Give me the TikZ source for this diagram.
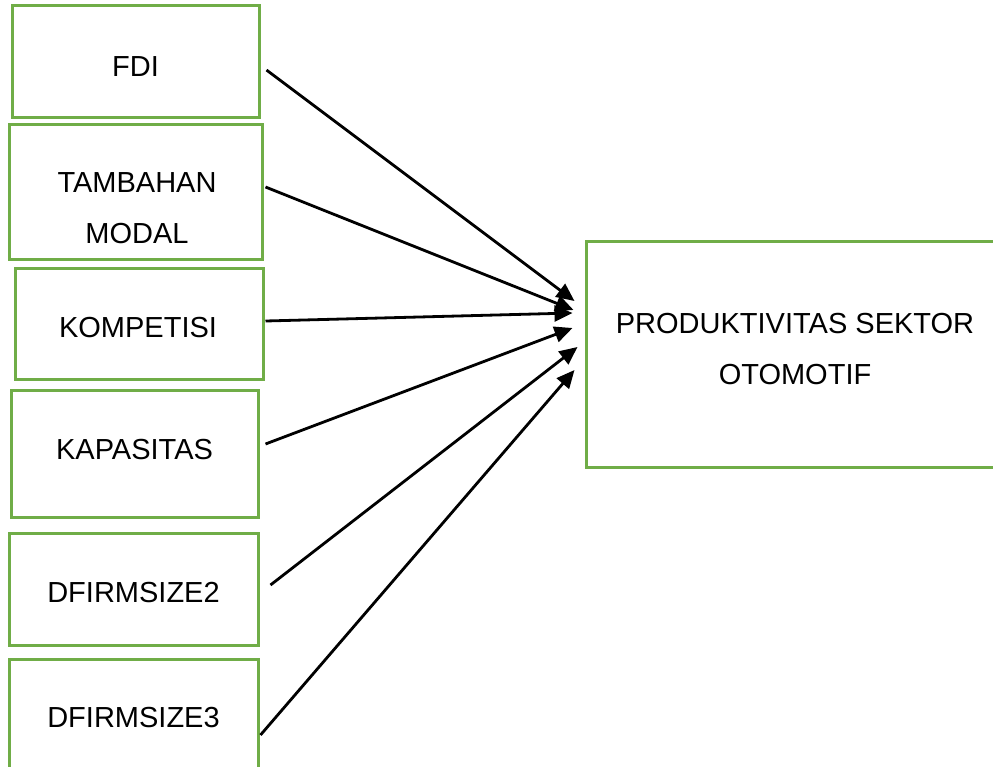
\documentclass[tikz,border=0pt]{standalone}
\usepackage{fontspec}
\setmainfont{Liberation Sans}
\usetikzlibrary{calc,arrows.meta}
\definecolor{boxgreen}{RGB}{112,173,71}
\begin{document}
\begin{tikzpicture}[x=1pt,y=-1pt,
  box/.style={draw=boxgreen,line width=3pt,rectangle,inner sep=0pt},
  txt/.style={font=\fontsize{29}{51}\selectfont,align=center,inner sep=0pt},
  conn/.style={line width=2.8pt,-{Triangle[length=18pt,width=16pt]}}]
\useasboundingbox (0,0) rectangle (993,766);
\clip (0,0) rectangle (993,766);
% boxes
\node[box,minimum width=247,minimum height=112] (fdi) at (135.5,61) {};
\node[box,minimum width=253,minimum height=135] (tam) at (135.5,191.5) {};
\node[box,minimum width=248,minimum height=111] (kom) at (139,323.5) {};
\node[box,minimum width=247,minimum height=127] (kap) at (134.5,453.5) {};
\node[box,minimum width=249,minimum height=112] (dfa) at (133.5,589) {};
\node[box,minimum width=249,minimum height=112] (dfb) at (133.5,715) {};
\node[box,minimum width=418,minimum height=226] (prod) at (795,354) {};
% texts
\node[txt] (fdit) at ([yshift=-6pt]fdi.center) {FDI};
\node[txt] (tamt) at ([xshift=1.5pt,yshift=-16.5pt]tam.center) {TAMBAHAN\\MODAL};
\node[txt] (komt) at ([xshift=-1pt,yshift=-4.5pt]kom.center) {KOMPETISI};
\node[txt] (kapt) at ([yshift=3.5pt]kap.center) {KAPASITAS};
\node[txt] (dfat) at ([yshift=-4pt]dfa.center) {DFIRMSIZE2};
\node[txt] (dfbt) at ([yshift=-3pt]dfb.center) {DFIRMSIZE3};
\node[txt] (prodt) at ([yshift=5pt]prod.center) {PRODUKTIVITAS SEKTOR\\OTOMOTIF};
% connectors
\draw[conn] ($(fdi.east)+(6,9)$) -- ($(prod.west)+(-10,-53)$);
\draw[conn] ($(tam.east)+(2,-4.5)$) -- ($(prod.west)+(-11,-44)$);
\draw[conn] ($(kom.east)+(1,-2.5)$) -- ($(prod.west)+(-12,-41)$);
\draw[conn] ($(kap.east)+(6,-9.5)$) -- ($(prod.west)+(-12,-26)$);
\draw[conn] ($(dfa.east)+(11,-4)$) -- ($(prod.west)+(-7,-7)$);
\draw[conn] ($(dfb.east)+(1,20)$) -- ($(prod.west)+(-10,16)$);
\end{tikzpicture}
\end{document}
